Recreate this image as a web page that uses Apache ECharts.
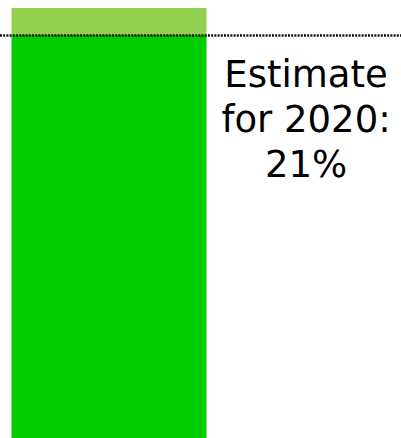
<!DOCTYPE html>
<html><head><meta charset="utf-8">
<script src="https://cdn.jsdelivr.net/npm/echarts@6/dist/echarts.min.js"></script>
<style>html,body{margin:0;padding:0;background:#fff}#c{width:401px;height:438px}</style>
</head><body><div id="c"></div>
<script>
const categories = ['2020'];
const baseValues = [21];
const topValues = [1.4];
const estimate = 21;
const estimateLabel = ['Estimate', 'for 2020:', '21%'];
const yMin = 0, yMax = 22.82;

const chart = echarts.init(document.getElementById('c'), null, {renderer: 'svg'});
chart.setOption({
  animation: false,
  grid: [
    {left: 11.5, width: 195, top: 0, bottom: 0},
    {left: 0, right: 0, top: 0, bottom: 0}
  ],
  xAxis: [
    {type: 'category', data: categories, gridIndex: 0, show: false},
    {type: 'category', data: categories, gridIndex: 1, show: false}
  ],
  yAxis: [
    {type: 'value', min: yMin, max: yMax, gridIndex: 0, show: false, splitLine: {show: false}},
    {type: 'value', min: yMin, max: yMax, gridIndex: 1, show: false, splitLine: {show: false}}
  ],
  series: [
    {type: 'bar', stack: 's', data: baseValues, barWidth: '100%', itemStyle: {color: '#00CC00'}},
    {type: 'bar', stack: 's', data: topValues, barWidth: '100%', itemStyle: {color: '#92D050'}},
    {type: 'line', xAxisIndex: 1, yAxisIndex: 1, data: [], markLine: {
      symbol: 'none', silent: true, label: {show: false},
      lineStyle: {color: '#111', width: 2.5, type: [2, 1.2], cap: 'butt'},
      data: [{yAxis: estimate}]
    }}
  ],
  graphic: [{
    type: 'text', x: 306, y: 52,
    style: {
      text: estimateLabel.join('\n'),
      align: 'center', verticalAlign: 'top',
      fontSize: 37, fontFamily: '"DejaVu Sans"', lineHeight: 45, fill: '#000'
    }
  }]
});
</script></body></html>
